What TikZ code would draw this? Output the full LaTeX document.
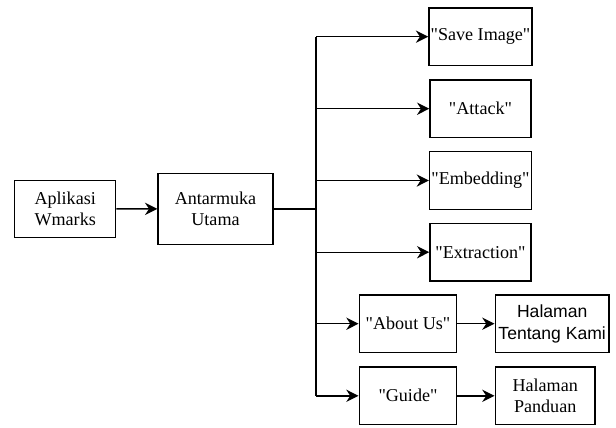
\documentclass[tikz,border=0pt]{standalone}
\usepackage{fontspec}
\setmainfont{Liberation Serif}[Ligatures=TeXOff]
\newfontfamily\sansfont{Liberation Sans}
\usetikzlibrary{arrows.meta}
\begin{document}
\begin{tikzpicture}[x=0.02cm, y=-0.02cm,
    box/.style={draw, thick, align=center, font=\fontsize{10.3}{12}\selectfont, inner sep=1pt, minimum height=1.15cm},
    arr/.style={thick, -{Stealth[length=7pt, width=7pt]}}]
    \useasboundingbox (0,0) rectangle (616,427);
    \node [box, minimum width=2.02cm] (app) at (65.2,209) {Aplikasi\\Wmarks};
    \node [box, minimum width=2.3cm, minimum height=1.42cm] (main) at (215.5,208.8) {Antarmuka\\Utama};
    \node [box, minimum width=2.02cm] (save) at (480.5,36.7) {"Save Image"};
    \node [box, minimum width=2.02cm] (attack) at (480.5,108.7) {"Attack"};
    \node [box, minimum width=2.02cm] (embed) at (480.5,180.5) {"Embedding"};
    \node [box, minimum width=2.02cm] (extract) at (480.5,252.2) {"Extraction"};
    \node [box, minimum width=1.95cm] (about) at (408,323.7) {"About Us"};
    \node [box, minimum width=2.28cm, font=\sansfont\fontsize{10}{12.5}\selectfont] (tentang) at (552.2,323.7) {Halaman\\Tentang Kami};
    \node [box, minimum width=1.95cm] (guide) at (408,395.8) {"Guide"};
    \node [box, minimum width=2.0cm] (panduan) at (545.2,395.8) {Halaman\\Panduan};
    \coordinate (split) at (316,208.8);
    \draw [arr] (app) -- (main);
    \draw [thick] (main) -- (split);
    \draw [thick] (split |- save) -- (split |- guide);
    \draw [arr] (split |- save) -- (save);
    \draw [arr] (split |- attack) -- (attack);
    \draw [arr] (split |- embed) -- (embed);
    \draw [arr] (split |- extract) -- (extract);
    \draw [arr] (split |- about) -- (about);
    \draw [arr] (split |- guide) -- (guide);
    \draw [arr] (about) -- (tentang);
    \draw [arr] (guide) -- (panduan);
\end{tikzpicture}
\end{document}
